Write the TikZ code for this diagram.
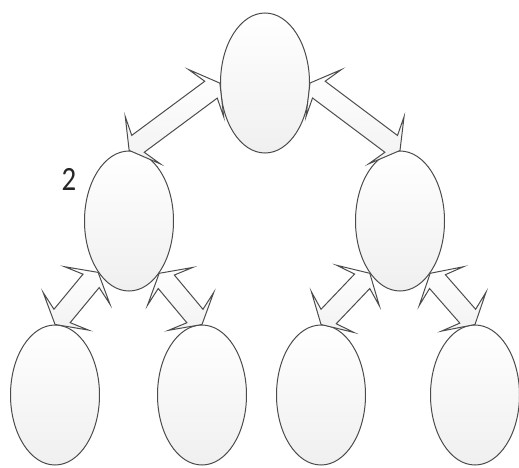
\documentclass[tikz,border=0pt]{standalone}
\usepackage{fontspec}
\setmainfont{Carlito}
\usetikzlibrary{shapes.geometric}
\usetikzlibrary{shapes.arrows}
\usetikzlibrary{calc}

\tikzset{
  bubble/.style={ellipse, draw=black!70, line width=1pt, top color=white,
    bottom color=gray!12, minimum width=89pt, minimum height=140pt, inner sep=0pt},
  link/.style={double arrow, draw=black!70, line width=1pt, top color=white,
    bottom color=gray!10, inner xsep=0pt, inner ysep=10pt, minimum width=0pt,
    double arrow head extend=19pt, double arrow head indent=6pt,
    double arrow tip angle=120, sloped}
}

\begin{document}
\begin{tikzpicture}[x=10pt,y=10pt]
    \useasboundingbox (0,0) rectangle (51.9,46.7);
    \node[bubble] (root) at (26.5,38.4) {};
    \node[bubble] (lmid) at (12.9,24.6) {};
    \node[bubble] (rmid) at (40.0,24.6) {};
    \node[bubble] (leafA) at (5.5,7.2) {};
    \node[bubble] (leafB) at (20.2,7.2) {};
    \node[bubble] (leafC) at (32.1,7.2) {};
    \node[bubble] (leafD) at (47.5,7.2) {};
    \node[font=\fontsize{34}{34}\selectfont, text=black!85, xscale=0.85] (lbl) at (6.9,28.8) {2};
    \foreach \a/\b in {lmid.north/root.west, root.east/rmid.north,
                       leafA.north/lmid.239, lmid.300/leafB.north,
                       leafC.north/rmid.240, rmid.300/leafD.north}
        \path let \p1=($(\b)-(\a)$), \n1={veclen(\x1,\y1)} in
            (\a) -- node[link, minimum height=\n1]{} (\b);
\end{tikzpicture}
\end{document}
